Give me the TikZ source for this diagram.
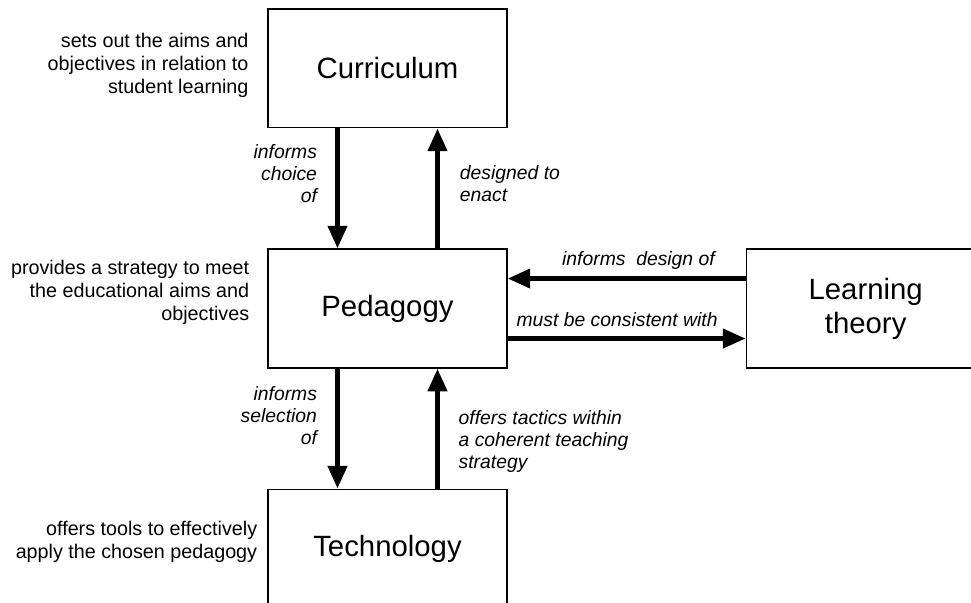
\documentclass[tikz,border=0pt]{standalone}
\usepackage{fontspec}
\setmainfont{Liberation Sans}
\usetikzlibrary{positioning,arrows.meta}

\begin{document}
\begin{tikzpicture}[
		box/.style={draw, line width=1.1pt, minimum width=179pt, minimum height=89pt, align=center, font=\fontsize{22}{25.5}\selectfont},
		note/.style={inner sep=0pt, align=right, font=\fontsize{14.8}{17.25}\selectfont},
		lab/.style={inner sep=0pt, font=\fontsize{14.5}{16.5}\selectfont\itshape},
		flow/.style={line width=3.75pt, -{Triangle[width=14pt,length=17pt]}},
		node distance=90pt
	]
			\useasboundingbox (-290.6pt,-220.1pt) rectangle (437.6pt,231.4pt);
			\node[box] (Ped) at (0,0) {Pedagogy};
			\node[box, above = of Ped] (Curr) {Curriculum};
			\node[box, below = of Ped] (Tech) {Technology};
			\node[box, right = 178.5pt of Ped] (Learn) {Learning\\theory};
			\node[note, left = 14pt of Curr, yshift=2.5pt] (CurrNote) {sets out the aims and\\objectives in relation to\\student learning};
			\node[note, left = 13.5pt of Ped, yshift=12pt] (PedNote) {provides a strategy to meet\\the educational aims and\\objectives};
			\node[note, left = 7.5pt of Tech, yshift=5pt] (TechNote) {offers tools to effectively\\apply the chosen pedagogy};
			\draw[flow] ([xshift=-37.5pt]Curr.south) -- node[lab, left = 13.5pt, align=right, pos=0.38] {informs\\choice\\of} ([xshift=-37.5pt]Ped.north);
			\draw[flow] ([xshift=37.5pt]Ped.north) -- node[lab, right = 15pt, align=left, pos=0.54] {designed to\\enact} ([xshift=37.5pt]Curr.south);
			\draw[flow] ([xshift=-37.5pt]Ped.south) -- node[lab, left = 13.5pt, align=right, pos=0.39] {informs\\selection\\of} ([xshift=-37.5pt]Tech.north);
			\draw[flow] ([xshift=37.5pt]Tech.north) -- node[lab, right = 14pt, align=left, pos=0.39] {offers tactics within\\a coherent teaching\\strategy} ([xshift=37.5pt]Ped.south);
			\draw[flow] ([yshift=22.5pt]Learn.west) -- node[lab, anchor=base, yshift=9.5pt, pos=0.45] {informs\ \ design of} ([yshift=22.5pt]Ped.east);
			\draw[flow] ([yshift=-22.5pt]Ped.east) -- node[lab, anchor=base, yshift=9pt, pos=0.46] {must be consistent with} ([yshift=-22.5pt]Learn.west);
		\end{tikzpicture}
\end{document}
